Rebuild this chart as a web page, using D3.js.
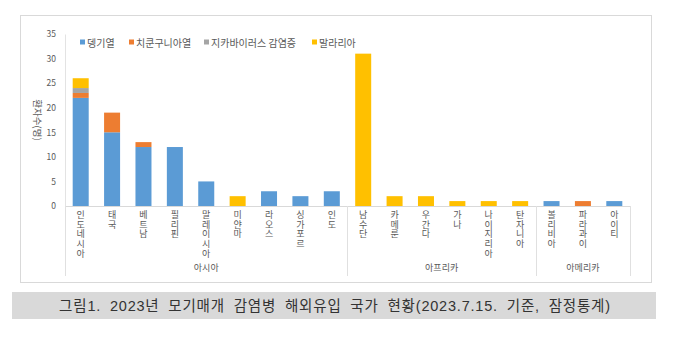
<!DOCTYPE html>
<html>
<head>
<meta charset="utf-8">
<script src="https://cdn.jsdelivr.net/npm/d3@7"></script>
<style>
  html, body { margin: 0; padding: 0; background: #fff; }
  svg { display: block; }
  svg text { font-family: "Noto Sans CJK KR", "Noto Sans", sans-serif; }
</style>
</head>
<body>
<svg id="chart" width="681" height="341"></svg>
<script>
// Countries, grouped by continent
const countries = ["인도네시아", "태국", "베트남", "필리핀", "말레이시아", "미얀마", "라오스", "싱가포르", "인도",
                   "남수단", "카메룬", "우간다", "가나", "나이지리아", "탄자니아",
                   "볼리비아", "파라과이", "아이티"];
const regions = [
  { name: "아시아", from: "인도네시아", to: "인도" },
  { name: "아프리카", from: "남수단", to: "탄자니아" },
  { name: "아메리카", from: "볼리비아", to: "아이티" }
];
const seriesNames = ["뎅기열", "치쿤구니아열", "지카바이러스 감염증", "말라리아"];
const seriesColors = ["#5B9BD5", "#ED7D31", "#A5A5A5", "#FFC000"];

// Cases per country (persons)
const dengue      = [22, 15, 12, 12, 5, 0, 3, 2, 3, 0, 0, 0, 0, 0, 0, 1, 0, 1];
const chikungunya = [1, 4, 1, 0, 0, 0, 0, 0, 0, 0, 0, 0, 0, 0, 0, 0, 1, 0];
const zika        = [1, 0, 0, 0, 0, 0, 0, 0, 0, 0, 0, 0, 0, 0, 0, 0, 0, 0];
const malaria     = [2, 0, 0, 0, 0, 2, 0, 0, 0, 31, 2, 2, 1, 1, 1, 0, 0, 0];
const yTicks = [0, 5, 10, 15, 20, 25, 30, 35];

const caption = "그림1. 2023년 모기매개 감염병 해외유입 국가 현황(2023.7.15. 기준, 잠정통계)";

const rows = countries.map((c, i) => ({
  country: c,
  "뎅기열": dengue[i],
  "치쿤구니아열": chikungunya[i],
  "지카바이러스 감염증": zika[i],
  "말라리아": malaria[i]
}));

const svg = d3.select("#chart");

// Chart frame
svg.append("rect")
  .attr("x", 20.5).attr("y", 15.5).attr("width", 631).attr("height", 267)
  .attr("fill", "#fff").attr("stroke", "#d9d9d9");

const plotL = 65, plotR = 630, plotT = 34, plotB = 206;

const x = d3.scaleBand().domain(countries).range([plotL, plotR]).paddingInner(0.49).paddingOuter(0.245);
const y = d3.scaleLinear().domain([0, 35]).range([plotB, plotT]);

// Y axis
const yAxis = svg.append("g").attr("transform", `translate(${plotL},0)`)
  .call(d3.axisLeft(y).tickValues(yTicks).tickSize(0).tickPadding(9));
yAxis.select(".domain").attr("stroke", "#e3e3e3");
yAxis.selectAll("text").attr("fill", "#595959").attr("font-size", 8.5)
  .attr("font-family", "Liberation Sans, Noto Sans, sans-serif");

// Y axis title, written top to bottom
svg.append("text")
  .attr("transform", `translate(38,120) rotate(90)`)
  .attr("text-anchor", "middle")
  .attr("dominant-baseline", "central")
  .attr("fill", "#595959").attr("font-size", 9.5)
  .text("환자수(명)");

// Stacked bars
const stack = d3.stack().keys(seriesNames)(rows);
const color = d3.scaleOrdinal().domain(seriesNames).range(seriesColors);

svg.append("g").selectAll("g").data(stack).join("g")
  .attr("fill", d => color(d.key))
  .selectAll("rect").data(d => d.filter(p => p[1] > p[0])).join("rect")
  .attr("x", d => x(d.data.country))
  .attr("width", x.bandwidth())
  .attr("y", d => y(d[1]))
  .attr("height", d => y(d[0]) - y(d[1]));

// Category axis baseline
svg.append("line")
  .attr("x1", plotL).attr("x2", plotR).attr("y1", plotB + 0.5).attr("y2", plotB + 0.5)
  .attr("stroke", "#d9d9d9");

// Group separators
const step = x.step();
const bounds = [plotL];
regions.forEach(r => bounds.push(x(r.to) + x.bandwidth() / 2 + step / 2));
svg.append("g").selectAll("line").data(bounds).join("line")
  .attr("x1", d => Math.round(d) + 0.5).attr("x2", d => Math.round(d) + 0.5)
  .attr("y1", plotB).attr("y2", 276)
  .attr("stroke", "#e0e0e0");

// Country labels, stacked vertically with upright characters
svg.append("g").selectAll("text").data(countries).join("text")
  .attr("x", c => x(c) + x.bandwidth() / 2)
  .attr("y", 210)
  .style("writing-mode", "vertical-rl")
  .style("text-orientation", "upright")
  .style("letter-spacing", "0.7px")
  .attr("fill", "#595959").attr("font-size", 9)
  .text(c => c);

// Region labels
svg.append("g").selectAll("text").data(regions).join("text")
  .attr("x", r => (x(r.from) + x(r.to) + x.bandwidth()) / 2)
  .attr("y", 271)
  .attr("text-anchor", "middle")
  .attr("fill", "#595959").attr("font-size", 9)
  .text(r => r.name);

// Legend
const legendX = [80, 129, 204, 312];
const lg = svg.append("g").selectAll("g").data(seriesNames).join("g")
  .attr("transform", (d, i) => `translate(${legendX[i]},43)`);
lg.append("rect").attr("x", 0).attr("y", -3.5).attr("width", 5).attr("height", 5)
  .attr("fill", d => color(d));
lg.append("text").attr("x", 7).attr("y", 3.5)
  .attr("fill", "#595959").attr("font-size", 10).text(d => d);

// Caption band
svg.append("rect")
  .attr("x", 12).attr("y", 292).attr("width", 644).attr("height", 27)
  .attr("fill", "#d9d9d9");
svg.append("text")
  .attr("x", 335).attr("y", 311)
  .attr("text-anchor", "middle")
  .style("font-family", "'Liberation Sans', 'Noto Sans CJK KR', sans-serif")
  .style("letter-spacing", "0.8px")
  .style("word-spacing", "4px")
  .attr("fill", "#333").attr("font-size", 14.5)
  .text(caption);
</script>
</body>
</html>
